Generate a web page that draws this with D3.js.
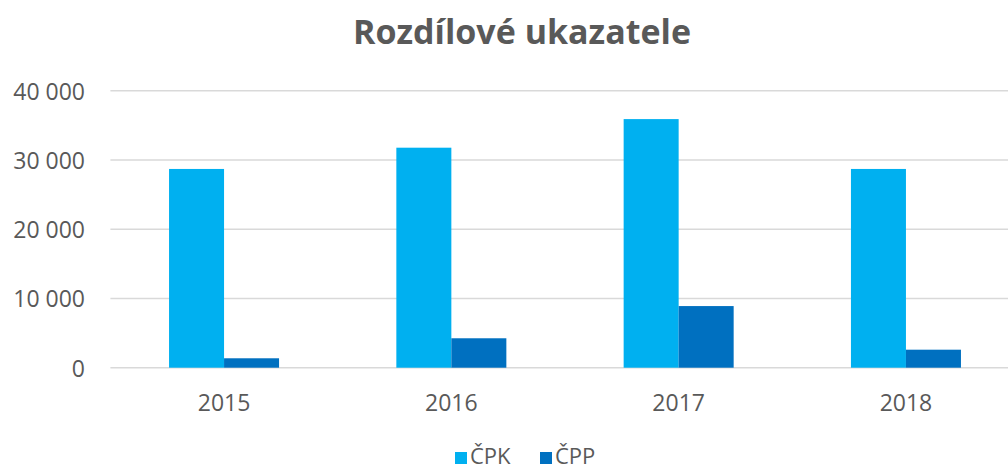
<!DOCTYPE html>
<html>
<head>
<meta charset="utf-8">
<script src="https://cdn.jsdelivr.net/npm/d3@7"></script>
<style>
  body { margin: 0; background: #fff; }
  text { font-family: "Open Sans", sans-serif; fill: #595959; }
</style>
</head>
<body>
<div id="chart"></div>
<script>
// Chart data
const years = ["2015", "2016", "2017", "2018"];
const seriesNames = ["ČPK", "ČPP"];
const cpk = [28700, 31770, 35900, 28700];
const cpp = [1360, 4250, 8900, 2600];
const yTicks = [0, 10000, 20000, 30000, 40000];

const colors = ["#00b0f0", "#0070c0"];

let width = 1008,
  height = 470,
  margin = { top: 91, left: 110.4, right: -11.6, bottom: 102 };

let svg = d3.select("#chart")
  .append("svg")
  .attr("width", width)
  .attr("height", height);

// Title
svg.append("text")
  .attr("x", 522)
  .attr("y", 44)
  .attr("text-anchor", "middle")
  .style("font-size", "34px")
  .style("font-weight", "bold")
  .text("Rozdílové ukazatele");

const x0 = d3.scaleBand()
  .domain(years)
  .range([margin.left, width - margin.right])
  .paddingInner(0.516)
  .paddingOuter(0.258);

const x1 = d3.scaleBand()
  .domain(seriesNames)
  .range([0, x0.bandwidth()]);

const y = d3.scaleLinear()
  .domain([0, 40000])
  .range([height - margin.bottom - 0.3, margin.top - 0.3]);

// Gridlines
svg.append("g")
  .selectAll("line")
  .data(yTicks)
  .enter().append("line")
  .attr("x1", margin.left)
  .attr("x2", width)
  .attr("y1", d => y(d))
  .attr("y2", d => y(d))
  .style("stroke", "#d9d9d9")
  .style("stroke-width", 1.5);

// Y axis labels
const fmt = d => d3.format(",")(d).replace(/,/g, " ");
svg.append("g")
  .selectAll("text")
  .data(yTicks)
  .enter().append("text")
  .attr("x", 85)
  .attr("y", d => y(d) + 9)
  .attr("text-anchor", "end")
  .style("font-size", "23px")
  .text(fmt);

// Bars
const rows = years.map((yr, i) => ({ year: yr, values: [cpk[i], cpp[i]] }));

svg.append("g")
  .selectAll("g")
  .data(rows)
  .enter().append("g")
  .attr("transform", d => "translate(" + x0(d.year) + ",0)")
  .selectAll("rect")
  .data(d => d.values.map((v, j) => ({ key: seriesNames[j], value: v, idx: j })))
  .enter().append("rect")
  .attr("x", d => x1(d.key))
  .attr("width", x1.bandwidth())
  .attr("y", d => y(d.value))
  .attr("height", d => y(0) - y(d.value))
  .style("fill", d => colors[d.idx]);

// X axis labels
svg.append("g")
  .selectAll("text")
  .data(years)
  .enter().append("text")
  .attr("x", d => x0(d) + x0.bandwidth() / 2)
  .attr("y", 411)
  .attr("text-anchor", "middle")
  .style("font-size", "23px")
  .text(d => d);

// Legend
const legendX = [455, 540];
const legend = svg.append("g");
seriesNames.forEach((name, i) => {
  legend.append("rect")
    .attr("x", legendX[i])
    .attr("y", 452)
    .attr("width", 12)
    .attr("height", 12)
    .style("fill", colors[i]);
  legend.append("text")
    .attr("x", legendX[i] + 15)
    .attr("y", 464)
    .style("font-size", "22px")
    .text(name);
});
</script>
</body>
</html>
